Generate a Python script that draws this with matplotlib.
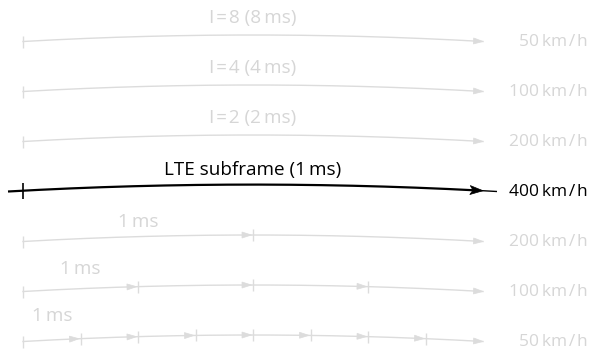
import numpy as np
import matplotlib
matplotlib.use("Agg")
import matplotlib.pyplot as plt
from matplotlib.patches import Polygon

# ---- data ----
speeds = [50, 100, 200, 400, 200, 100, 50]
titles = ["I\u200a=\u200a8 (8\u2009ms)", "I\u200a=\u200a4 (4\u2009ms)", "I\u200a=\u200a2 (2\u2009ms)",
          "LTE subframe (1\u2009ms)", "1\u2009ms", "1\u2009ms", "1\u2009ms"]
segments = [1, 1, 1, 1, 2, 4, 8]
highlight = 3

# ---- layout ----
W, H = 597, 349
fig = plt.figure(figsize=(W / 100, H / 100), dpi=100)
ax = fig.add_axes([0, 0, 1, 1])
ax.set_xlim(0, W)
ax.set_ylim(H, 0)
ax.axis("off")

FONT = ["Open Sans", "DejaVu Sans"]
FS = 12.5
FS_T = 13.6
GRAY = "#dcdcdc"
TGRAY = "#d6d6d6"
x0, x1 = 23, 483
y_first, pitch = 41.5, 50
bulge_per_px = 6.5 / 460.0


def curve(x, xa, xb, yend, bulge):
    t = (x - xa) / (xb - xa)
    return yend - 4 * bulge * t * (1 - t)


def arrowhead(xtip, xa, xb, yend, bulge, L, w, color, notch=0.0):
    ytip = curve(xtip, xa, xb, yend, bulge)
    yb = curve(xtip - 1, xa, xb, yend, bulge)
    d = np.array([1.0, ytip - yb])
    d /= np.hypot(*d)
    n = np.array([-d[1], d[0]])
    p = np.array([xtip, ytip])
    base = p - L * d
    pts = [p, base + w * n, p - (L - notch) * d, base - w * n]
    tri = Polygon(pts, closed=True, facecolor=color, edgecolor=color,
                  lw=0.5, zorder=3)
    ax.add_patch(tri)


def tick(x, xa, xb, yend, bulge, h, color, lw):
    y = curve(x, xa, xb, yend, bulge)
    ax.plot([x, x], [y - h, y + h], color=color, lw=lw, solid_capstyle="butt")


def unit(spd):
    return f"{spd}\u2009km\u200a/\u200ah"


for i, (spd, title, nseg) in enumerate(zip(speeds, titles, segments)):
    yend = y_first + i * pitch
    if i == highlight:
        xa, xb = 8, 497
        bulge = bulge_per_px * (xb - xa)
        tip = x1
        xs = np.linspace(xa, tip - 6, 300)
        ax.plot(xs, curve(xs, xa, xb, yend, bulge), color="black", lw=1.6,
                solid_capstyle="butt")
        xs2 = np.linspace(tip - 6, xb, 30)
        ax.plot(xs2, curve(xs2, xa, xb, yend, bulge), color="black", lw=1.0,
                solid_capstyle="butt")
        tick(x0, xa, xb, yend, bulge, 8, "black", 1.2)
        arrowhead(tip, xa, xb, yend, bulge, 13, 4.5, "black", notch=3)
        ax.text((x0 + x1) / 2, yend - 21.5, title, ha="center", va="center",
                fontsize=FS_T, color="black", family=FONT)
        ax.text(588, yend, unit(spd), ha="right", va="center",
                fontsize=FS, color="black", family=FONT)
        continue

    xa, xb = x0, x1
    bulge = bulge_per_px * (xb - xa)
    bounds = np.linspace(xa, xb, nseg + 1)
    xs = np.linspace(xa, xb, 300)
    ax.plot(xs, curve(xs, xa, xb, yend, bulge), color=GRAY, lw=1.0)
    for k in range(nseg):
        tick(bounds[k], xa, xb, yend, bulge, 6, GRAY, 1.0)
        tip = bounds[k + 1] - (1.5 if k < nseg - 1 else 0)
        arrowhead(tip, xa, xb, yend, bulge, 9.5, 3, GRAY)
    if nseg == 1:
        lx, ly = (xa + xb) / 2, yend - 23.5
    else:
        lx = (bounds[0] + bounds[1]) / 2
        ly = yend - (16 + 3.3 * np.log2(nseg))
    ax.text(lx, ly, title, ha="center", va="center", fontsize=FS_T,
            color=TGRAY, family=FONT)
    ax.text(588, yend, unit(spd), ha="right", va="center",
            fontsize=FS, color=TGRAY, family=FONT)

fig.savefig("out.png", dpi=100)
